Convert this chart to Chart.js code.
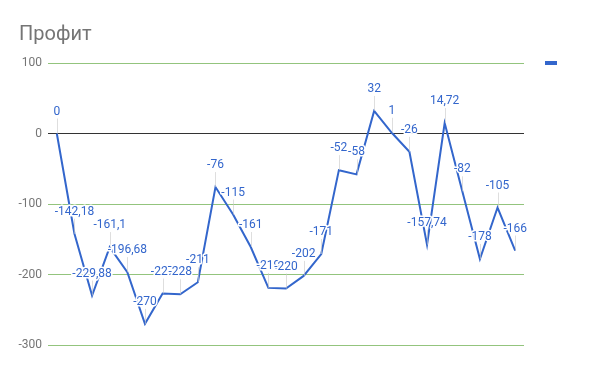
<!DOCTYPE html>
<html>
  <head>
    <meta charset="utf-8">
    <script src="https://cdn.jsdelivr.net/npm/chart.js@4"></script>
    <style>
      html, body { margin: 0; padding: 0; background: #fff; }
      #wrap { width: 600px; height: 371px; position: relative; }
    </style>
  </head>

  <body>
    <div id="wrap">
      <canvas id="canvas"></canvas>
    </div>
    <script>
      const title = 'Профит';
      const profit = [0, -142.18, -229.88, -161.1, -196.68, -270, -227, -228, -211, -76, -115, -161, -219, -220, -202, -171, -52, -58, 32, 1, -26, -157.74, 14.72, -82, -178, -105, -166];
      const labels = profit.map((v, i) => String(i + 1));
      const yTicks = [100, 0, -100, -200, -300];

      const fmt = (v) => String(v).replace('.', ',');

      // title, legend marker and the annotation labels with their stems
      const extras = {
        id: 'extras',
        afterDatasetsDraw(chart) {
          const ctx = chart.ctx;
          ctx.save();
          ctx.fillStyle = '#757575';
          ctx.font = '20px Roboto';
          ctx.textBaseline = 'alphabetic';
          ctx.fillText(title, 19, 40);

          ctx.fillStyle = '#3366cc';
          ctx.fillRect(545, 61, 12, 4);

          const meta = chart.getDatasetMeta(0);
          ctx.font = '12px Roboto';
          ctx.textAlign = 'center';
          ctx.textBaseline = 'middle';
          meta.data.forEach((pt, i) => {
            ctx.strokeStyle = 'rgba(200,200,200,0.6)';
            ctx.lineWidth = 1;
            ctx.beginPath();
            ctx.moveTo(Math.round(pt.x) + 0.5, pt.y);
            ctx.lineTo(Math.round(pt.x) + 0.5, pt.y - 15);
            ctx.stroke();
          });
          meta.data.forEach((pt, i) => {
            const t = fmt(profit[i]);
            ctx.strokeStyle = '#fff';
            ctx.lineWidth = 3;
            ctx.lineJoin = 'round';
            ctx.strokeText(t, pt.x, pt.y - 22);
            ctx.fillStyle = '#3366cc';
            ctx.fillText(t, pt.x, pt.y - 22);
          });
          ctx.restore();
        },
      };

      new Chart(document.getElementById('canvas'), {
        type: 'line',
        data: {
          labels: labels,
          datasets: [
            {
              label: title,
              data: profit,
              borderColor: '#3366cc',
              borderWidth: 2,
              pointRadius: 0,
              tension: 0,
            },
          ],
        },
        options: {
          responsive: true,
          maintainAspectRatio: false,
          animation: false,
          layout: { padding: { top: 63, right: 76, bottom: 26, left: 0 } },
          plugins: {
            legend: { display: false },
            tooltip: { enabled: false },
          },
          scales: {
            x: {
              display: false,
              offset: true,
            },
            y: {
              min: -300,
              max: 100,
              afterFit: (scale) => { scale.width = 48; },
              afterBuildTicks: (scale) => { scale.ticks = yTicks.map((v) => ({ value: v })); },
              border: { display: false },
              grid: {
                drawTicks: false,
                color: (c) => (c.tick && c.tick.value === 0 ? '#333333' : '#93c47d'),
              },
              ticks: {
                padding: 6,
                color: '#757575',
                font: { family: 'Roboto', size: 12 },
              },
            },
          },
        },
        plugins: [extras],
      });
    </script>
  </body>
</html>
